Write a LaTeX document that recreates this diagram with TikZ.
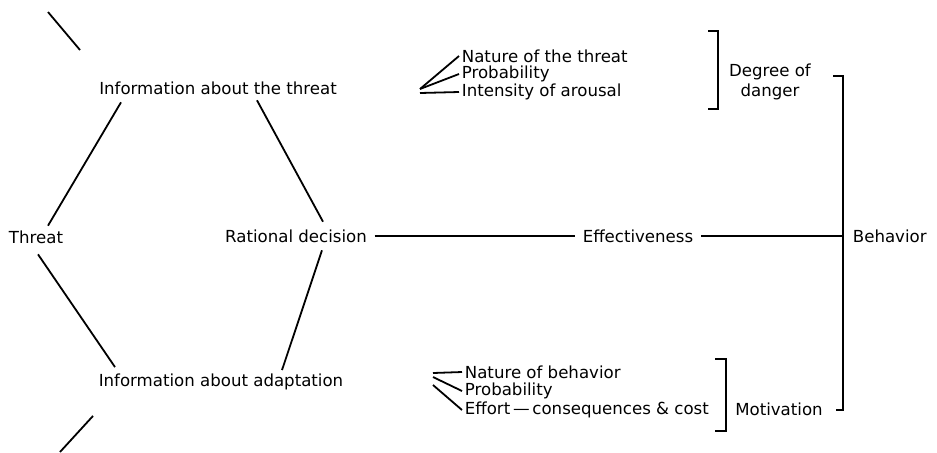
\documentclass[tikz,border=0pt]{standalone}
\usepackage{fontspec}
\setmainfont{DejaVu Sans}
\begin{document}
\begin{tikzpicture}[x=0.5pt, y=-0.5pt, line width=0.9pt,
    every node/.style={font=\fontsize{8.3}{10}\selectfont, inner sep=1pt},
    link/.style={shorten <=2.5pt, shorten >=2.5pt}]
    \useasboundingbox (0,0) rectangle (937,452);
    \node (infothreat) at (218,88) {Information about the threat};
    \node (threat) at (36,237) {Threat};
    \node (rational) at (296,236) {Rational decision};
    \node (infoadapt) at (221,382) {Information about adaptation};
    \node (effect) at (638,236) {Effectiveness};
    \node[anchor=west] (behavior) at (850,236) {Behavior};
    \node[anchor=west] (naturethreat) at (459,56) {Nature of the threat};
    \node[anchor=west] (probthreat) at (459,74) {Probability};
    \node[anchor=west] (intensity) at (459,92) {Intensity of arousal};
    \node[align=center] (danger) at (770,82) {Degree of\\danger};
    \node[anchor=west] (naturebeh) at (462,372) {Nature of behavior};
    \node[anchor=west] (probadapt) at (462,391) {Probability};
    \node[anchor=west] (effort) at (462,410) {Effort\,---\,consequences \& cost};
    \node (motivation) at (779,409) {Motivation};
    \coordinate (straytop) at (48,12);
    \coordinate (straytopend) at (80,50);
    \coordinate (straybot) at (60,452);
    \coordinate (fanthreat) at (420,89);
    \coordinate (fanthreatlow) at (420,93);
    \coordinate (fanadapt) at (433,373);
    \coordinate (fanadaptmid) at (433,377);
    \coordinate (fanadaptlow) at (433,385);
    \coordinate (dangertop) at (708,31);
    \coordinate (dangerbot) at (708,109);
    \coordinate (motivtop) at (715,359);
    \coordinate (motivbot) at (715,431);
    \coordinate (behavtop) at (833,76);
    \coordinate (behavbot) at (836,410);
    \coordinate (behavjoin) at (843,236);
    \draw (straytop) -- (straytopend);
    \draw ([xshift=-48.5pt, yshift=-2.5pt]infothreat.south) -- ([xshift=6pt, yshift=1pt]threat.north);
    \draw ([xshift=19.5pt, yshift=-1.5pt]infothreat.south) -- ([xshift=13.5pt, yshift=2.5pt]rational.north);
    \draw ([xshift=1pt, yshift=-4pt]threat.south) -- ([xshift=-53pt, yshift=2pt]infoadapt.north);
    \draw ([xshift=13pt, yshift=-2.5pt]rational.south) -- ([xshift=30.5pt, yshift=0.5pt]infoadapt.north);
    \draw ([xshift=-64pt, yshift=-11.5pt]infoadapt.south) -- (straybot);
    \draw[link] (rational) -- (effect);
    \draw[shorten <=2.5pt] (effect.east) -- (behavjoin);
    \draw (fanthreat) -- (naturethreat.west);
    \draw (fanthreat) -- (probthreat.west);
    \draw (fanthreatlow) -- (intensity.west);
    \draw (fanadapt) -- (naturebeh.west);
    \draw (fanadaptmid) -- (probadapt.west);
    \draw (fanadaptlow) -- (effort.west);
    \draw (dangertop) -- ++(10,0) |- (dangerbot);
    \draw (motivtop) -- ++(11,0) |- (motivbot);
    \draw (behavtop) -- ++(10,0) |- (behavbot);
\end{tikzpicture}
\end{document}
